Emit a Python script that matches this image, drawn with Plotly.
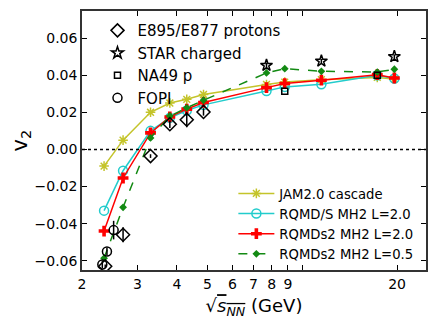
import plotly.graph_objects as go

# model energies (sqrt(s_NN), GeV)
sqrts_model = [2.35, 2.7, 3.3, 3.8, 4.3, 4.86, 7.7, 8.8, 11.5, 17.3, 19.6]

v2_jam = [-0.009, 0.005, 0.020, 0.025, 0.027, 0.0296, 0.035, 0.0363, 0.0376, 0.0388, 0.038]
v2_rqmds = [-0.033, -0.0115, 0.010, 0.0170, 0.021, 0.024, 0.0315, 0.0337, 0.0351, 0.040, 0.0382]
v2_rqmds2_l20 = [-0.044, -0.0154, 0.0089, 0.0175, 0.0217, 0.0253, 0.0333, 0.0355, 0.0373, 0.0403, 0.0385]
v2_rqmds2_l05 = [-0.0586, -0.0312, 0.0062, 0.018, 0.0224, 0.0265, 0.0412, 0.0435, 0.0421, 0.0417, 0.0432]

# experimental data
e895_x = [2.37, 2.7, 3.3, 3.8, 4.3, 4.86]
e895_y = [-0.063, -0.046, -0.0036, 0.0136, 0.016, 0.0202]
e895_err = [0.001, 0.004, 0.001, 0.002, 0.004, 0.002]

star_x = [7.7, 11.5, 19.6]
star_y = [0.0453, 0.0476, 0.050]
star_err = [0.0015, 0.0012, 0.0012]

na49_x = [8.8, 17.3]
na49_y = [0.0313, 0.040]

fopi_x = [2.32, 2.40, 2.52]
fopi_y = [-0.0620, -0.055, -0.0435]
fopi_err = [0.002, 0.002, 0.005]

xtick_vals = [2, 3, 4, 5, 6, 7, 8, 9, 10, 20]
xtick_text = ["2", "3", "4", "5", "6", "7", "8", "9", "", "20"]

FONT = "DejaVu Sans"

fig = go.Figure()

def model(x, y, name, color, symbol, size, dash="solid", mline=1.5):
    fig.add_scatter(x=x, y=y, name=name, mode="lines+markers", legend="legend2",
                    line=dict(color=color, width=1.5, dash=dash),
                    marker=dict(color=color, symbol=symbol, size=size,
                                line=dict(color=color, width=mline)))

model(sqrts_model, v2_jam, "JAM2.0 cascade", "#c4c42a", "asterisk-open", 8)
model(sqrts_model, v2_rqmds, "RQMD/S MH2 L=2.0", "#22cccc", "circle-open", 9)
model(sqrts_model, v2_rqmds2_l20, "RQMDs2 MH2 L=2.0", "#ff0000", "cross", 9, mline=0)
model(sqrts_model, v2_rqmds2_l05, "RQMDs2 MH2 L=0.5", "#138a13", "diamond", 6, dash="dash", mline=0)

def data(x, y, err, name, symbol, size):
    fig.add_scatter(x=x, y=y, name=name, mode="markers", legend="legend",
                    marker=dict(symbol=symbol, size=size, color="black",
                                line=dict(color="black", width=1.5)),
                    error_y=None if err is None else dict(type="data", array=err, color="black",
                                                          thickness=1.5, width=0))

data(e895_x, e895_y, e895_err, "E895/E877 protons", "diamond-open", 10)
data(star_x, star_y, star_err, "STAR charged", "star-open", 9)
data(na49_x, na49_y, None, "NA49 p", "square-open", 6)
data(fopi_x, fopi_y, fopi_err, "FOPI", "circle-open", 9)

fig.add_hline(y=0, line=dict(color="black", width=1.5, dash="dot"))

# page body has an 8px margin, so the figure is sized to fit inside it
fig.update_layout(
    width=428, height=319,
    margin=dict(l=74, r=10, t=2.5, b=57),
    paper_bgcolor="white", plot_bgcolor="white",
    font=dict(family=FONT, size=14, color="black"),
    legend=dict(x=0.045, y=0.988, xanchor="left", yanchor="top", bgcolor="rgba(0,0,0,0)",
                font=dict(size=15), traceorder="normal"),
    legend2=dict(x=0.44, y=0.354, xanchor="left", yanchor="top", bgcolor="rgba(0,0,0,0)",
                 font=dict(size=13.2), traceorder="normal", itemwidth=36),
)

fig.update_xaxes(type="log", range=[0.30103, 1.3927], tickvals=xtick_vals, ticktext=xtick_text,
                 ticks="inside", ticklen=5, tickwidth=1, tickcolor="black", mirror="ticks",
                 showline=True, linecolor="#333", linewidth=1.5, showgrid=False, zeroline=False,
                 tickfont=dict(size=14), automargin=False,
                 title=dict(text="\u221a<span style='text-decoration:overline'><i>s</i><sub><i>NN</i></sub></span> (GeV)",
                            font=dict(size=18), standoff=9))
fig.update_yaxes(range=[-0.065, 0.0746], tickvals=[-0.06, -0.04, -0.02, 0, 0.02, 0.04, 0.06],
                 ticktext=["\u22120.06", "\u22120.04", "\u22120.02", "0.00", "0.02", "0.04", "0.06"],
                 ticks="inside", ticklen=5, tickwidth=1, tickcolor="black", mirror="ticks",
                 showline=True, linecolor="#333", linewidth=1.5, showgrid=False, zeroline=False,
                 tickfont=dict(size=14), automargin=False,
                 title=dict(text="v<sub>2</sub>", font=dict(size=21), standoff=3))

fig.write_html("out.html")
